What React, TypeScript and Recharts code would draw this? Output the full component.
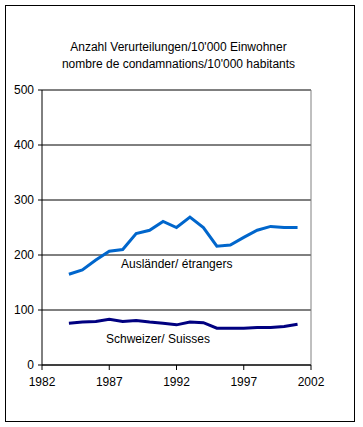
import { CartesianGrid, Line, LineChart, ReferenceLine, XAxis, YAxis } from "recharts";

const years = [1984, 1985, 1986, 1987, 1988, 1989, 1990, 1991, 1992, 1993, 1994, 1995, 1996, 1997, 1998, 1999, 2000, 2001];
const auslaender = [165, 173, 191, 207, 210, 239, 245, 261, 250, 269, 250, 216, 218, 232, 245, 252, 250, 250];
const schweizer = [76, 78, 79, 83, 79, 81, 78, 76, 73, 78, 77, 67, 67, 67, 68, 68, 70, 74];

const xTicks = [1982, 1987, 1992, 1997, 2002];
const yTicks = [0, 100, 200, 300, 400, 500];

const titleLines = ["Anzahl Verurteilungen/10'000 Einwohner", "nombre de condamnations/10'000 habitants"];

const data = years.map((year, i) => ({ year, auslaender: auslaender[i], schweizer: schweizer[i] }));

const font = "'Liberation Sans', Arial, sans-serif";
const tickStyle = { fontSize: 12, fill: "#000", fontFamily: font };

export default function App() {
  return (
    <div style={{ position: "absolute", left: 0, top: 0, width: 363, height: 427, background: "#fff", fontFamily: font }}>
      <div style={{ position: "absolute", left: 5, top: 5, width: 348, height: 415, border: "1px solid #000" }} />
      <div style={{ position: "absolute", left: -3, top: 39, width: 363, textAlign: "center", fontSize: 12, lineHeight: "17px" }}>
        {titleLines.map((t) => (
          <div key={t}>{t}</div>
        ))}
      </div>
      <LineChart width={363} height={427} data={data} margin={{ top: 90, right: 52, bottom: 32, left: 8 }}>
        <CartesianGrid vertical={false} stroke="#000" horizontalValues={yTicks} />
        <ReferenceLine y={500} stroke="#808080" />
        <ReferenceLine x={2002} stroke="#808080" />
        <XAxis
          dataKey="year"
          type="number"
          domain={[1982, 2002]}
          ticks={xTicks}
          tick={tickStyle}
          tickSize={5}
          stroke="#000"
          height={30}
          tickMargin={7}
        />
        <YAxis
          type="number"
          domain={[0, 500]}
          ticks={yTicks}
          tick={tickStyle}
          tickSize={4}
          stroke="#000"
          width={34}
          tickMargin={4}
        />
        <Line dataKey="auslaender" stroke="#0066cc" strokeWidth={3} dot={false} isAnimationActive={false} />
        <Line dataKey="schweizer" stroke="#000080" strokeWidth={3} dot={false} isAnimationActive={false} />
      </LineChart>
      <div style={{ position: "absolute", left: 121, top: 257, fontSize: 12 }}>Ausländer/ étrangers</div>
      <div style={{ position: "absolute", left: 106, top: 332, fontSize: 12 }}>Schweizer/ Suisses</div>
    </div>
  );
}
